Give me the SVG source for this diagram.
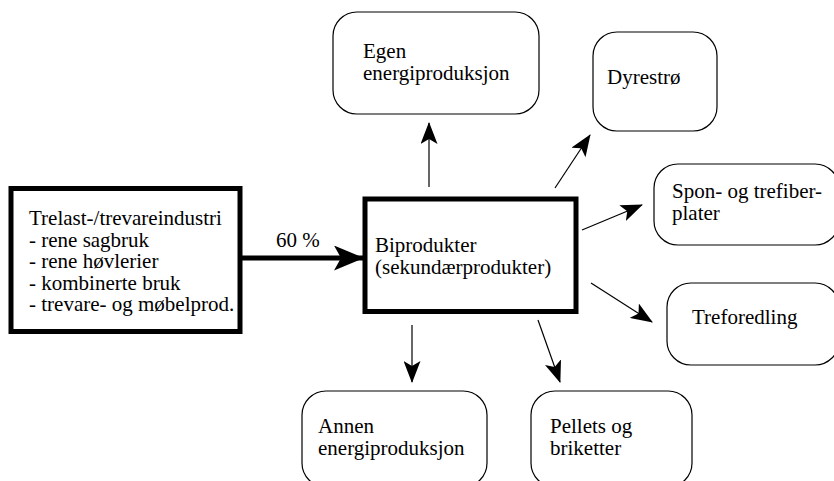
<svg xmlns="http://www.w3.org/2000/svg" width="834" height="481" viewBox="0 0 834 481">
<defs>
<style>
.t{font-family:"Liberation Serif","Times New Roman",serif;font-size:21px;fill:#000}
.rb{fill:#fff;stroke:#000;stroke-width:1.2}
.bb{fill:#fff;stroke:#000;stroke-width:5}
.c{stroke:#000;stroke-width:1.2;fill:none;marker-end:url(#ah)}
.ct{stroke:#000;stroke-width:5;fill:none;marker-end:url(#ahb)}
</style>
<marker id="ah" viewBox="0 0 22 17" refX="21" refY="8.5" markerWidth="22" markerHeight="17" markerUnits="userSpaceOnUse" orient="auto">
<path d="M0,0 L22,8.5 L0,17 L5,8.5 z" fill="#000"/>
</marker>
<marker id="ahb" viewBox="0 0 30 25" refX="29" refY="12.5" markerWidth="30" markerHeight="25" markerUnits="userSpaceOnUse" orient="auto">
<path d="M0,0 L30,12.5 L0,25 L7,12.5 z" fill="#000"/>
</marker>
</defs>
<rect width="834" height="481" fill="#fff"/>
<g id="connectors">
<line class="ct" x1="240" y1="258" x2="363" y2="258"/>
<line class="c" x1="429" y1="187" x2="429" y2="123"/>
<line class="c" x1="555" y1="188" x2="590" y2="135"/>
<line class="c" x1="582" y1="230" x2="642" y2="205"/>
<line class="c" x1="591" y1="283" x2="652" y2="322"/>
<line class="c" x1="412" y1="325" x2="412" y2="382"/>
<line class="c" x1="538" y1="320" x2="560" y2="382"/>
<text class="t" x="276" y="247">60 %</text>
</g>
<g id="source">
<rect class="bb" x="11" y="188.5" width="229" height="143"/>
<text class="t" x="29" y="225">Trelast-/trevareindustri</text>
<text class="t" x="29" y="246.5">- rene sagbruk</text>
<text class="t" x="29" y="268">- rene høvlerier</text>
<text class="t" x="29" y="289.5">- kombinerte bruk</text>
<text class="t" x="29" y="311">- trevare- og møbelprod.</text>
</g>
<g id="biprodukter">
<rect class="bb" x="365" y="199" width="211" height="112.5"/>
<text class="t" x="375" y="252">Biprodukter</text>
<text class="t" x="375" y="274">(sekundærprodukter)</text>
</g>
<g id="egen">
<rect class="rb" x="333" y="12" width="206" height="102" rx="24"/>
<text class="t" x="363" y="58">Egen</text>
<text class="t" x="363" y="80">energiproduksjon</text>
</g>
<g id="dyrestro">
<rect class="rb" x="593" y="32" width="124" height="99" rx="24"/>
<text class="t" x="607" y="84">Dyrestrø</text>
</g>
<g id="spon">
<rect class="rb" x="654" y="164" width="185" height="81" rx="24"/>
<text class="t" x="672" y="198">Spon- og trefiber-</text>
<text class="t" x="672" y="220">plater</text>
</g>
<g id="treforedling">
<rect class="rb" x="667" y="283" width="172" height="82" rx="24"/>
<text class="t" x="692" y="324">Treforedling</text>
</g>
<g id="annen">
<rect class="rb" x="302" y="391" width="185" height="96" rx="24"/>
<text class="t" x="318" y="433">Annen</text>
<text class="t" x="318" y="455">energiproduksjon</text>
</g>
<g id="pellets">
<rect class="rb" x="531" y="391" width="161" height="96" rx="24"/>
<text class="t" x="550" y="433">Pellets og</text>
<text class="t" x="550" y="455">briketter</text>
</g>
</svg>
